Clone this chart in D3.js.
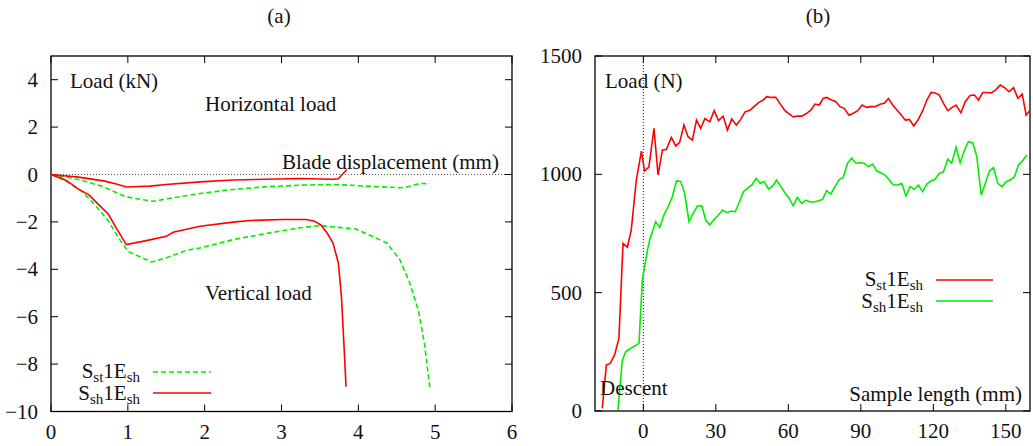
<!DOCTYPE html>
<html><head><meta charset="utf-8">
<script src="https://cdn.jsdelivr.net/npm/d3@7"></script>
<style>
body{margin:0;background:#fff;}
text{font-family:"Liberation Serif","Times New Roman",serif;fill:#111;}
</style></head>
<body><svg id="c" width="1033" height="446"></svg>
<script>
// ---- Panel (a) data: blade displacement (mm) vs load (kN)
const aXTicks = [0,1,2,3,4,5,6];
const aYTicks = [-10,-8,-6,-4,-2,0,2,4];
const aHorizRed = [[0,0],[0.36,-0.11],[0.7,-0.28],[0.85,-0.4],[0.98,-0.53],[1.29,-0.49],[1.5,-0.42],[1.94,-0.31],[2.37,-0.23],[2.8,-0.2],[3.24,-0.17],[3.67,-0.2],[3.74,-0.18],[3.85,0.21]];
const aHorizGreen = [[0,0],[0.36,-0.21],[0.66,-0.49],[0.96,-0.92],[1.09,-1.01],[1.33,-1.13],[1.5,-1.03],[1.94,-0.8],[2.37,-0.63],[2.8,-0.52],[3.24,-0.45],[3.67,-0.42],[4.1,-0.49],[4.54,-0.56],[4.62,-0.54],[4.8,-0.38],[4.93,-0.39]];
const aVertRed = [[0,0],[0.2,-0.25],[0.36,-0.63],[0.49,-0.85],[0.62,-1.27],[0.75,-1.69],[0.85,-2.26],[0.98,-2.96],[1.24,-2.79],[1.5,-2.61],[1.59,-2.44],[1.94,-2.18],[2.37,-2.01],[2.59,-1.94],[3.02,-1.9],[3.32,-1.9],[3.43,-1.97],[3.52,-2.15],[3.6,-2.5],[3.67,-2.89],[3.74,-3.73],[3.78,-5.15],[3.81,-7.0],[3.84,-8.95]];
const aVertGreen = [[0,0],[0.14,-0.17],[0.4,-0.7],[0.57,-1.27],[0.75,-1.97],[0.88,-2.68],[1.0,-3.24],[1.27,-3.64],[1.31,-3.69],[1.5,-3.52],[1.76,-3.2],[1.94,-3.1],[2.37,-2.75],[2.8,-2.49],[3.24,-2.25],[3.5,-2.16],[3.97,-2.3],[4.37,-2.89],[4.54,-3.59],[4.67,-4.58],[4.78,-5.71],[4.86,-7.12],[4.93,-8.98]];

// ---- Panel (b) data: sample length (mm) vs load (N)
const bXTicks = [0,30,60,90,120,150];
const bYTicks = [0,500,1000,1500];
const bRedX = [-17.0,-15.3,-13.7,-11.9,-10.1,-8.4,-6.6,-5.0,-2.9,-0.8,0.5,2.3,4.4,6.1,7.9,9.5,11.6,13.4,15.0,16.8,18.5,20.3,22.0,23.7,25.5,27.5,29.3,31.1,33.0,34.8,36.6,38.5,40.3,42.1,44.1,45.8,47.7,49.6,51.0,53.0,54.8,56.5,58.6,60.3,62.0,63.8,65.6,67.6,69.3,71.0,72.8,74.4,75.8,77.9,79.7,81.4,83.1,85.1,86.9,88.7,90.5,92.4,94.2,96.0,97.9,99.7,101.4,103.2,105.0,106.6,108.4,110.1,111.9,113.8,115.6,117.3,119.1,120.8,122.5,124.2,126.0,127.8,129.4,131.4,133.2,135.2,137.0,138.7,140.5,142.1,143.9,145.7,147.7,149.4,151.3,153.2,155.0,156.8,158.4,160];
const bRedY = [11,194,201,237,307,708,692,765,976,1098,1014,1031,1194,997,1103,1105,1156,1120,1134,1208,1159,1145,1229,1194,1236,1222,1269,1227,1246,1187,1234,1208,1232,1264,1271,1286,1303,1314,1328,1325,1325,1300,1269,1255,1243,1246,1246,1258,1271,1297,1293,1321,1325,1314,1307,1286,1279,1250,1258,1269,1293,1283,1286,1286,1296,1300,1320,1293,1271,1253,1229,1232,1204,1232,1269,1314,1346,1344,1335,1300,1269,1283,1293,1260,1307,1333,1335,1314,1346,1346,1344,1356,1377,1367,1349,1366,1321,1339,1250,1271];
const bGreenX = [-10.5,-8.7,-7.3,-5.7,-1.8,-0.4,1.7,2.6,5.1,6.8,8.5,10.2,12.0,13.7,15.5,17.1,18.9,20.6,22.4,24.2,25.8,27.5,29.3,31.1,32.7,34.5,36.3,38.0,39.8,41.4,43.2,44.9,46.7,48.3,50.0,51.8,53.5,55.1,56.9,58.7,60.3,62.0,63.7,65.5,67.3,68.9,70.7,72.4,74.2,75.8,77.6,79.3,81.1,82.7,84.5,86.2,88.0,89.6,91.4,93.1,94.9,96.6,98.3,100.0,101.8,103.4,105.3,106.9,108.7,110.4,112.1,113.8,115.6,117.3,119.1,120.7,122.5,124.2,126.0,127.6,129.4,131.1,132.9,134.5,136.3,138.0,139.8,141.4,143.2,144.9,146.7,148.4,150.2,151.8,153.6,155.2,157.1,158.7];
const bGreenY = [4,215,250,262,286,553,680,722,800,776,828,863,905,972,970,920,800,835,866,867,807,786,810,828,849,838,845,842,884,927,943,955,983,962,970,938,950,976,948,920,899,867,903,877,891,883,883,888,894,931,917,948,979,986,1047,1068,1047,1049,1047,1032,1043,1014,1007,997,976,955,955,962,908,948,937,955,927,959,973,979,1004,1011,1065,1047,1114,1049,1103,1138,1134,1074,913,959,1014,1028,962,948,969,976,990,1039,1060,1082];

const RED = "#ff0000", GREEN = "#00ee00";
const svg = d3.select("#c");
const FS = 21;

function frame(g, x, y, xt, yt) {
  const [x0,x1] = x.range(), [y0,y1] = y.range();
  g.append("rect").attr("x",x0).attr("y",y1).attr("width",x1-x0).attr("height",y0-y1)
    .attr("fill","none").attr("stroke","#000").attr("stroke-width",1.3);
  const tl = 7;
  xt.forEach(v => {
    const px = x(v);
    g.append("line").attr("x1",px).attr("x2",px).attr("y1",y0).attr("y2",y0-tl).attr("stroke","#000");
    g.append("line").attr("x1",px).attr("x2",px).attr("y1",y1).attr("y2",y1+tl).attr("stroke","#000");
    g.append("text").attr("x",px).attr("y",y0+27).attr("text-anchor","middle").attr("font-size",FS).text(String(v).replace("-","\u2212"));
  });
  yt.forEach(v => {
    const py = y(v);
    g.append("line").attr("x1",x0).attr("x2",x0+tl).attr("y1",py).attr("y2",py).attr("stroke","#000");
    g.append("line").attr("x1",x1).attr("x2",x1-tl).attr("y1",py).attr("y2",py).attr("stroke","#000");
    g.append("text").attr("x",x0-13).attr("y",py+7).attr("text-anchor","end").attr("font-size",FS).text(String(v).replace("-","\u2212"));
  });
}

function subLabel(g, x, y, a, b) {
  const t = g.append("text").attr("x",x).attr("y",y).attr("text-anchor","end").attr("font-size",FS);
  t.append("tspan").text("S");
  t.append("tspan").attr("dy",4).attr("font-size",15).text(a);
  t.append("tspan").attr("dy",-4).text("1E");
  t.append("tspan").attr("dy",4).attr("font-size",15).text(b);
}

// ---- Panel (a)
const ax = d3.scaleLinear().domain([0,6]).range([51,512]);
const ay = d3.scaleLinear().domain([-10,5]).range([411.5,56]);
const ga = svg.append("g");
ga.append("line").attr("x1",ax(0)).attr("x2",ax(6)).attr("y1",ay(0)).attr("y2",ay(0))
  .attr("stroke","#555").attr("stroke-width",1).attr("stroke-dasharray","1,2");
frame(ga, ax, ay, aXTicks, aYTicks);
const la = d3.line().x(d=>ax(d[0])).y(d=>ay(d[1]));
[[aHorizGreen,GREEN,"5,3"],[aVertGreen,GREEN,"5,3"],[aHorizRed,RED,null],[aVertRed,RED,null]].forEach(([d,c,dash])=>{
  ga.append("path").attr("d",la(d)).attr("fill","none").attr("stroke",c).attr("stroke-width",1.6)
    .attr("stroke-dasharray",dash);
});
ga.append("text").attr("x",70).attr("y",88).attr("font-size",FS).text("Load (kN)");
ga.append("text").attr("x",205).attr("y",111).attr("font-size",FS).text("Horizontal load");
ga.append("text").attr("x",282).attr("y",169).attr("font-size",FS).text("Blade displacement (mm)");
ga.append("text").attr("x",205).attr("y",300).attr("font-size",FS).text("Vertical load");
subLabel(ga, 140, 378, "st", "sh");
ga.append("line").attr("x1",153).attr("x2",211).attr("y1",372).attr("y2",372).attr("stroke",GREEN).attr("stroke-width",1.6).attr("stroke-dasharray","5,3");
subLabel(ga, 140, 400, "sh", "sh");
ga.append("line").attr("x1",153).attr("x2",211).attr("y1",393).attr("y2",393).attr("stroke",RED).attr("stroke-width",1.6);
svg.append("text").attr("x",279).attr("y",23).attr("text-anchor","middle").attr("font-size",FS).text("(a)");

// ---- Panel (b)
const bx = d3.scaleLinear().domain([-20,160]).range([595,1030]);
const by = d3.scaleLinear().domain([0,1500]).range([411,56]);
const gb = svg.append("g");
gb.append("line").attr("x1",bx(0)).attr("x2",bx(0)).attr("y1",by(0)).attr("y2",by(1500))
  .attr("stroke","#222").attr("stroke-width",1).attr("stroke-dasharray","1,2");
frame(gb, bx, by, bXTicks, bYTicks);
const lb = d3.line().x(d=>bx(d[0])).y(d=>by(d[1]));
gb.append("path").attr("d",lb(bGreenX.map((v,i)=>[v,bGreenY[i]]))).attr("fill","none").attr("stroke",GREEN).attr("stroke-width",1.6);
gb.append("path").attr("d",lb(bRedX.map((v,i)=>[v,bRedY[i]]))).attr("fill","none").attr("stroke",RED).attr("stroke-width",1.6);
gb.append("text").attr("x",605).attr("y",88).attr("font-size",FS).text("Load (N)");
gb.append("text").attr("x",600).attr("y",395).attr("font-size",FS).text("Descent");
gb.append("text").attr("x",1022).attr("y",401).attr("text-anchor","end").attr("font-size",FS).text("Sample length (mm)");
subLabel(gb, 923, 286, "st", "sh");
gb.append("line").attr("x1",936).attr("x2",993).attr("y1",280).attr("y2",280).attr("stroke",RED).attr("stroke-width",1.6);
subLabel(gb, 923, 308, "sh", "sh");
gb.append("line").attr("x1",936).attr("x2",993).attr("y1",301).attr("y2",301).attr("stroke",GREEN).attr("stroke-width",1.6);
svg.append("text").attr("x",818).attr("y",23).attr("text-anchor","middle").attr("font-size",FS).text("(b)");
</script></body></html>
